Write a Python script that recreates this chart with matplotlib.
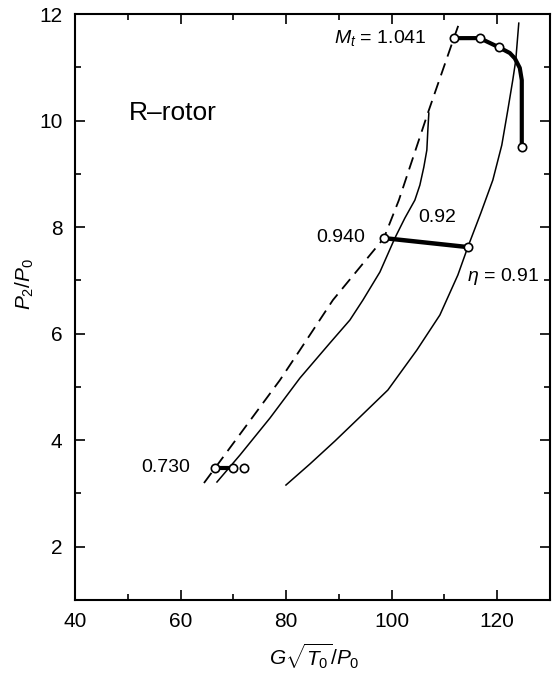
import numpy as np
import matplotlib
matplotlib.use("Agg")
import matplotlib.pyplot as plt
from matplotlib.ticker import MultipleLocator

plt.rcParams['font.family'] = ['Liberation Sans', 'DejaVu Sans']
plt.rcParams['mathtext.fontset'] = 'custom'
plt.rcParams['mathtext.rm'] = 'Liberation Sans'
plt.rcParams['mathtext.it'] = 'Liberation Sans:italic'

# dashed line
dash_x = [64.44, 69.75, 78.84, 82.63, 88.88, 98.55, 101.39, 106.88, 111.81, 112.75]
dash_y = [3.196, 3.909, 5.129, 5.693, 6.631, 7.795, 8.508, 10.142, 11.549, 11.812]

# efficiency 0.92 contour
e92_x = [66.90, 71.26, 76.95, 82.63, 88.31, 92.10, 94.57, 97.79, 100.63, 102.52,
         104.42, 105.37, 106.12, 106.69, 106.88, 107.07]
e92_y = [3.215, 3.721, 4.416, 5.167, 5.824, 6.256, 6.631, 7.157, 7.795, 8.170,
         8.508, 8.790, 9.128, 9.447, 9.822, 10.142]

# efficiency 0.91 contour
e91_x = [79.98, 84.52, 89.26, 94.00, 99.30, 104.80, 109.16, 112.57, 114.46, 116.92,
         119.20, 120.90, 122.04, 122.98, 123.55, 124.12]
e91_y = [3.158, 3.553, 3.984, 4.435, 4.942, 5.693, 6.350, 7.101, 7.626, 8.264,
         8.884, 9.541, 10.198, 10.761, 11.136, 11.831]

# constant tip Mach number lines
mt1041_x = [111.81, 116.70, 120.30, 122.42, 123.37, 124.31, 124.69, 124.69]
mt1041_y = [11.549, 11.55, 11.38, 11.27, 11.17, 10.99, 10.76, 9.50]
mt1041_pts_x = [111.81, 116.70, 120.30, 124.69]
mt1041_pts_y = [11.549, 11.55, 11.38, 9.50]

mt0940_x = [98.55, 114.46]
mt0940_y = [7.795, 7.626]

mt0730_x = [66.5, 69.9, 72.0]
mt0730_y = [3.48, 3.48, 3.48]

fig = plt.figure(figsize=(5.52, 6.73), dpi=100)
ax = fig.add_axes([0.136, 0.1085, 0.86, 0.8705])

ax.plot(dash_x, dash_y, color="black", lw=1.3, ls=(0, (7, 4)))
ax.plot(e92_x, e92_y, color="black", lw=1.1)
ax.plot(e91_x, e91_y, color="black", lw=1.1)

circ = dict(ms=6, mfc="white", mec="black", mew=1.2)
ax.plot(mt1041_x, mt1041_y, color="black", lw=3)
ax.plot(mt1041_pts_x, mt1041_pts_y, "o", **circ)
ax.plot(mt0940_x, mt0940_y, color="black", lw=3.2, marker="o", **circ)
ax.plot(mt0730_x[:2], mt0730_y[:2], color="black", lw=3)
ax.plot(mt0730_x, mt0730_y, "o", **circ)

ax.text(106.7, 11.55, r"$M_t$ = 1.041", fontsize=14, ha="right", va="center")
ax.text(95.0, 7.81, "0.940", fontsize=14, ha="right", va="center")
ax.text(108.6, 8.19, "0.92", fontsize=14, ha="center", va="center")
ax.text(114.3, 7.08, r"$\eta$ = 0.91", fontsize=14, ha="left", va="center")
ax.text(61.8, 3.48, "0.730", fontsize=14, ha="right", va="center")
ax.text(50.2, 10.14, "R\u2013rotor", fontsize=19, ha="left", va="center")

ax.set_xlim(40, 130)
ax.set_ylim(1, 12)
ax.xaxis.set_major_locator(MultipleLocator(20))
ax.xaxis.set_minor_locator(MultipleLocator(10))
ax.yaxis.set_major_locator(MultipleLocator(2))
ax.yaxis.set_minor_locator(MultipleLocator(1))
ax.tick_params(which="both", direction="in", top=True, right=True, width=1.2)
ax.tick_params(which="major", length=7, labelsize=15, pad=9)
ax.tick_params(which="minor", length=4)
for s in ax.spines.values():
    s.set_linewidth(1.5)

ax.set_xlabel(r"$G\sqrt{T_0}/P_0$", fontsize=15)
ax.set_ylabel(r"$P_2/P_0$", fontsize=15)
ax.xaxis.set_label_coords(0.503, -0.07)
ax.yaxis.set_label_coords(-0.082, 0.54)

fig.savefig("out.png", dpi=100)
